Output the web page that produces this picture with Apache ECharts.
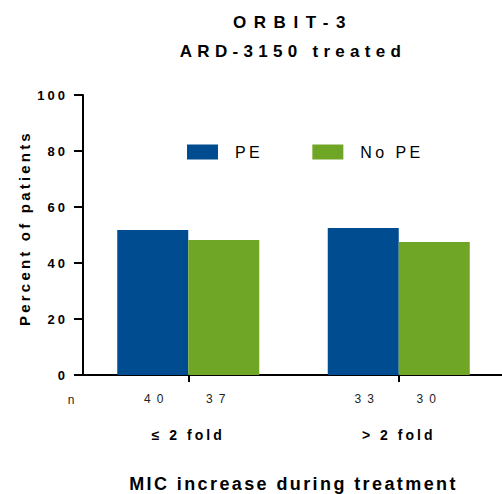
<!DOCTYPE html>
<html>
<head>
<meta charset="utf-8">
<script src="https://cdn.jsdelivr.net/npm/echarts@6/dist/echarts.min.js"></script>
<style>
  html, body { margin: 0; padding: 0; background: #fff; }
  #chart { width: 502px; height: 494px; }
</style>
</head>
<body>
<div id="chart"></div>
<script>
// ---- data ----
var categories = ['\u2264 2 fold', '> 2 fold'];
var seriesNames = ['PE', 'No PE'];
var pePercent = [51.8, 52.5];
var noPePercent = [48.2, 47.5];
var nPE = [40, 33];
var nNoPE = [37, 30];
var yTicks = [0, 20, 40, 60, 80, 100];

var FONT = "'Liberation Sans', Arial, sans-serif";
var BLUE = '#004C91';
var GREEN = '#70A626';

var chart = echarts.init(document.getElementById('chart'), null, { renderer: 'svg' });

var option = {
  animation: false,
  backgroundColor: '#ffffff',
  title: {
    text: 'ORBIT-3\nARD-3150 treated',
    left: 293,
    top: 8,
    padding: 0,
    textAlign: 'center',
    textStyle: { fontFamily: FONT, fontSize: 17, fontWeight: 'bold', color: '#000', lineHeight: 29 }
  },
  legend: {
    data: seriesNames,
    left: 187,
    top: 144,
    padding: 0,
    itemWidth: 31,
    itemHeight: 15,
    itemGap: 56,
    icon: 'rect',
    textStyle: { fontFamily: FONT, fontSize: 16, color: '#000', padding: [0, 0, 0, 12] }
  },
  grid: { left: 83, right: -2, top: 95, bottom: 119, containLabel: false, outerBoundsMode: 'none' },
  xAxis: {
    type: 'category',
    data: categories,
    axisLine: { show: true, lineStyle: { color: '#000', width: 2 } },
    axisTick: { show: true, alignWithLabel: true, length: 7, lineStyle: { color: '#000', width: 2 } },
    axisLabel: { margin: 53, fontFamily: FONT, fontSize: 14, fontWeight: 'bold', color: '#000' },
    name: 'MIC increase during treatment',
    nameLocation: 'middle',
    nameGap: 100,
    nameTextStyle: { fontFamily: FONT, fontSize: 18, fontWeight: 'bold', color: '#000' }
  },
  yAxis: {
    type: 'value',
    min: yTicks[0],
    max: yTicks[yTicks.length - 1],
    interval: yTicks[1] - yTicks[0],
    splitLine: { show: false },
    axisLine: { show: true, lineStyle: { color: '#000', width: 2 } },
    axisTick: { show: true, length: 9, lineStyle: { color: '#000', width: 2 } },
    axisLabel: { margin: 15, fontFamily: FONT, fontSize: 13, fontWeight: 'bold', color: '#000' },
    name: 'Percent of patients',
    nameLocation: 'middle',
    nameGap: 51,
    nameTextStyle: { fontFamily: FONT, fontSize: 15, fontWeight: 'bold', color: '#000', padding: [0, 0, 0, 14] }
  },
  graphic: [{
    type: 'text',
    x: 74,
    y: 400,
    style: { text: 'n', fontFamily: FONT, fontSize: 12, fill: '#222', align: 'center', verticalAlign: 'middle' }
  }],
  series: [
    {
      name: seriesNames[0],
      type: 'bar',
      data: pePercent,
      barWidth: 71,
      barGap: '0%',
      itemStyle: { color: BLUE },
      label: {
        show: true, position: 'bottom', distance: 18, offset: [4, 0],
        fontFamily: FONT, fontSize: 12, color: '#222',
        formatter: function (p) { return String(nPE[p.dataIndex]); }
      }
    },
    {
      name: seriesNames[1],
      type: 'bar',
      data: noPePercent,
      barWidth: 71,
      barGap: '0%',
      itemStyle: { color: GREEN },
      label: {
        show: true, position: 'bottom', distance: 18, offset: [-5, 0],
        fontFamily: FONT, fontSize: 12, color: '#222',
        formatter: function (p) { return String(nNoPE[p.dataIndex]); }
      }
    }
  ]
};

chart.setOption(option);

// letter spacing to mimic the wide tracking of the original figure
var spacingBySize = { '17px': 5.3, '16px': 3.4, '13px': 3, '15px': 3.2, '14px': 3, '18px': 2.4, '12px': 6 };
function applySpacing() {
  var texts = document.querySelectorAll('#chart text');
  for (var i = 0; i < texts.length; i++) {
    var fs = window.getComputedStyle(texts[i]).fontSize;
    var s = spacingBySize[fs];
    if (texts[i].textContent === 'ORBIT-3') s = 7.6;
    if (s != null) texts[i].style.letterSpacing = s + 'px';
  }
}
applySpacing();
chart.on('finished', applySpacing);
</script>
</body>
</html>
